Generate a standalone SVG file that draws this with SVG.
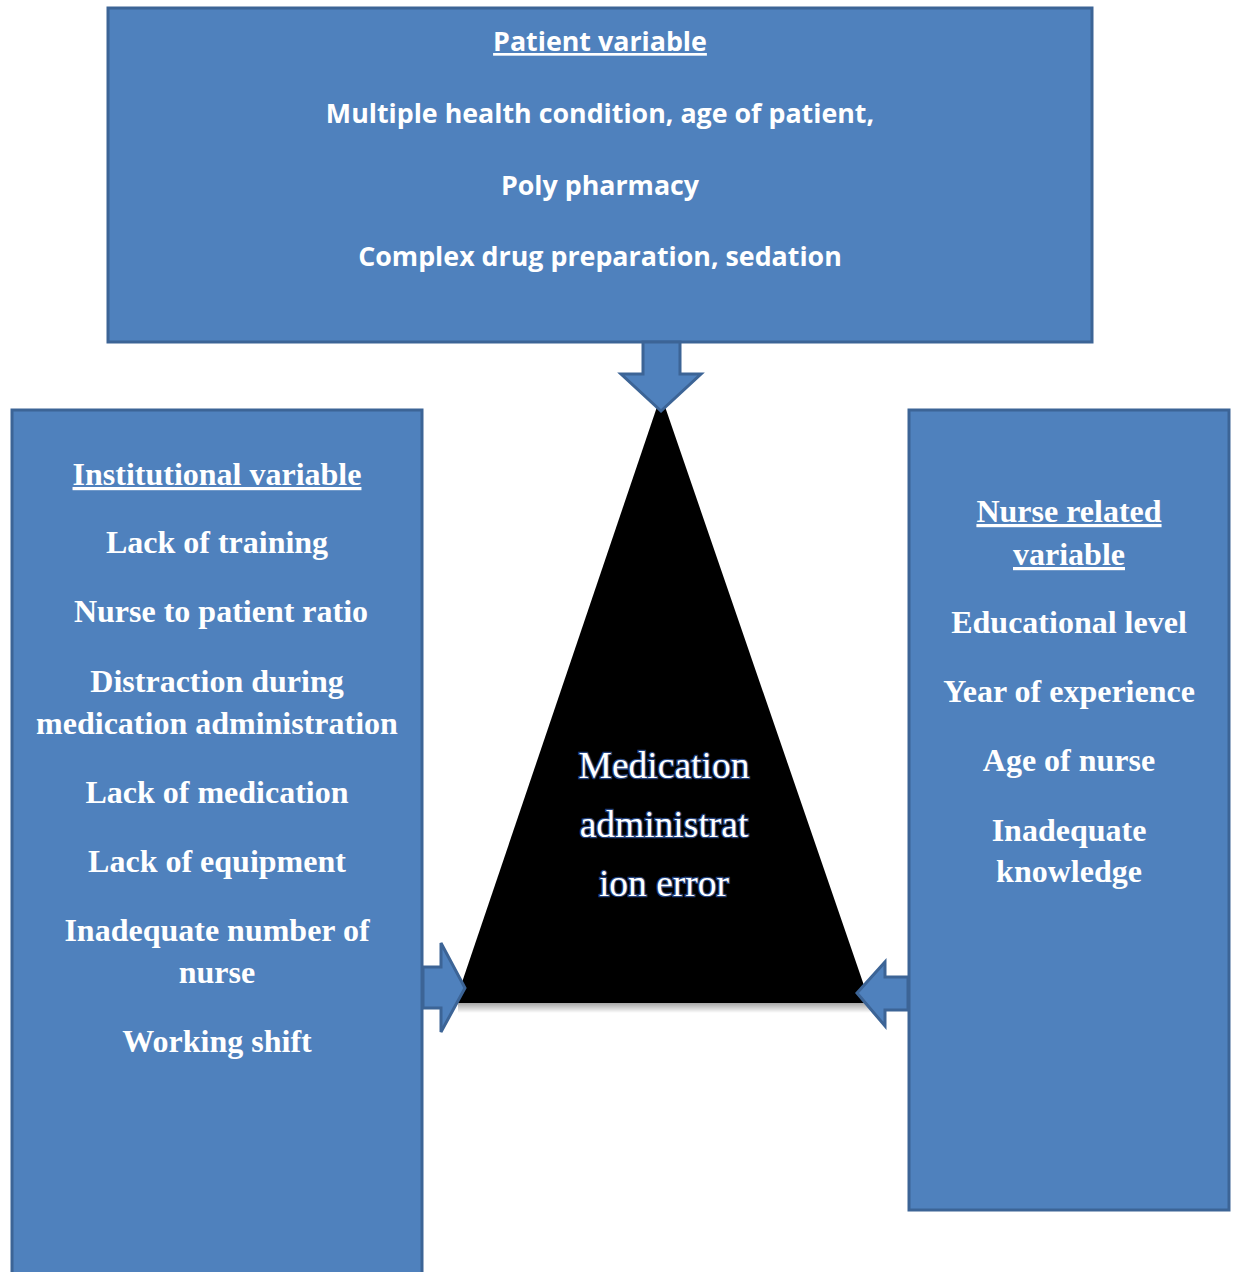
<svg xmlns="http://www.w3.org/2000/svg" width="1236" height="1272" viewBox="0 0 1236 1272">
<style>
.box{fill:#4F81BD;stroke:#3C6496;stroke-width:3}
.arr{fill:#4F81BD;stroke:#3C6496;stroke-width:3;stroke-linejoin:miter}
.sans{font-family:"Open Sans","Liberation Sans",sans-serif;font-weight:bold;font-size:26.8px;fill:#fff;text-anchor:middle}
.serif{font-family:"Liberation Serif","Times New Roman",serif;font-weight:bold;font-size:32px;fill:#fff;text-anchor:middle}
.tri{font-family:"Liberation Serif","Times New Roman",serif;font-size:37.5px;fill:#fff;stroke:#24417A;stroke-width:2.6;paint-order:stroke;text-anchor:middle}
.u{text-decoration:underline}
</style>
<defs>
<linearGradient id="sh" x1="0" y1="0" x2="0" y2="1">
<stop offset="0" stop-color="#000" stop-opacity="0.35"/>
<stop offset="1" stop-color="#000" stop-opacity="0"/>
</linearGradient>
</defs>
<g id="triangle">
<rect x="458" y="1003" width="412" height="10" fill="url(#sh)"/>
<polygon points="661,395 870,1003 455,1003" fill="#000"/>
<text class="tri" x="664" y="778">Medication</text>
<text class="tri" x="664" y="837">administrat</text>
<text class="tri" x="664" y="896">ion error</text>
</g>
<g id="patient">
<rect class="box" x="108" y="8" width="984" height="334"/>
<text class="sans u" x="600" y="51">Patient variable</text>
<text class="sans" x="600" y="123">Multiple health condition, age of patient,</text>
<text class="sans" x="600" y="195">Poly pharmacy</text>
<text class="sans" x="600" y="266">Complex drug preparation, sedation</text>
</g>
<g id="institutional">
<rect class="box" x="12" y="410" width="410" height="880"/>
<text class="serif u" x="217" y="485">Institutional variable</text>
<text class="serif" x="217" y="553">Lack of training</text>
<text class="serif" x="221" y="622">Nurse to patient ratio</text>
<text class="serif" x="217" y="692">Distraction during</text>
<text class="serif" x="217" y="734">medication administration</text>
<text class="serif" x="217" y="803">Lack of medication</text>
<text class="serif" x="217" y="872">Lack of equipment</text>
<text class="serif" x="217" y="941">Inadequate number of</text>
<text class="serif" x="217" y="983">nurse</text>
<text class="serif" x="217" y="1052">Working shift</text>
</g>
<g id="nurse">
<rect class="box" x="909" y="410" width="320" height="800"/>
<text class="serif u" x="1069" y="522">Nurse related</text>
<text class="serif u" x="1069" y="565">variable</text>
<text class="serif" x="1069" y="633">Educational level</text>
<text class="serif" x="1069" y="702">Year of experience</text>
<text class="serif" x="1069" y="771">Age of nurse</text>
<text class="serif" x="1069" y="841">Inadequate</text>
<text class="serif" x="1069" y="882">knowledge</text>
</g>
<g id="connectors">
<polygon class="arr" points="643,342 680,342 680,374 701,374 661,411 621,374 643,374"/>
<polygon class="arr" points="423,967 441,967 441,943 465,988 441,1032 441,1008 423,1008"/>
<polygon class="arr" points="908,977 885,977 885,962 857,993 885,1026 885,1010 908,1010"/>
</g>
</svg>
